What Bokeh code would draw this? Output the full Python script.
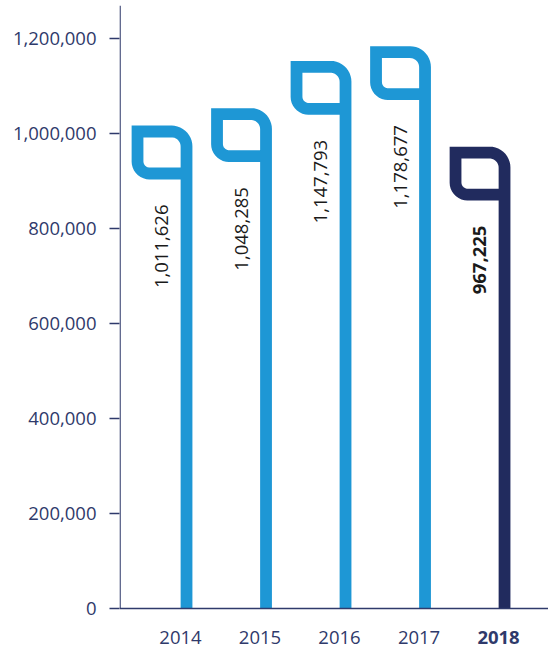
import numpy as np
from bokeh.plotting import figure
from bokeh.models import Range1d, FixedTicker, ColumnDataSource, NumeralTickFormatter, Span
from bokeh.core.properties import value
from bokeh.embed import file_html
from bokeh.resources import INLINE

# ---- data ----
years = ["2014", "2015", "2016", "2017", "2018"]
visitors = [1011626, 1048285, 1147793, 1178677, 967225]
value_labels = ["1,011,626", "1,048,285", "1,147,793", "1,178,677", "967,225"]
highlight = [False, False, False, False, True]
y_ticks = [0, 200000, 400000, 600000, 800000, 1000000, 1200000]

# ---- styling / layout ----
BLUE = "#1E97D5"
NAVY_BAR = "#212B5E"
AXIS_COL = "#2F3A6B"
FONT = "Open Sans"

W_PX, H_PX = 548, 653
LEFT, RIGHT, TOP, BOTTOM = 119, 0, 5, 0
ZERO_PX_FROM_BOTTOM = 45          # baseline sits 45 px above the canvas bottom
frame_w = W_PX - LEFT - RIGHT
frame_h = H_PX - TOP - BOTTOM
Y_MAX = 1269474
uy = Y_MAX / (frame_h - ZERO_PX_FROM_BOTTOM)   # data units per px (y)
Y_MIN = -ZERO_PX_FROM_BOTTOM * uy
X_START, X_END = -0.843, 4.553
ux = (X_END - X_START) / frame_w                # data units per px (x)

# hook geometry in pixels
HW, HH, R1, R2, DROP = 49.0, 42.0, 15.0, 12.0, 3.5
STROKE = 11.8


def hook_path(xc, v):
    """Polyline (data coords) for one bar: vertical stem + hook at the top."""
    pts = [(0.0, None), (0.0, R1)]
    for t in np.linspace(0, -np.pi / 2, 12)[1:]:
        pts.append((-R1 + R1 * np.cos(t), R1 + R1 * np.sin(t)))
    pts.append((-HW, 0.0))
    pts.append((-HW, HH - R2))
    for t in np.linspace(np.pi, np.pi / 2, 10)[1:]:
        pts.append((-HW + R2 + R2 * np.cos(t), HH - R2 + R2 * np.sin(t)))
    pts.append((0.0, HH))
    top = v - DROP * uy
    xs = [xc + dx * ux for dx, dy in pts]
    ys = [0.0 if dy is None else top - dy * uy for dx, dy in pts]
    return xs, ys


xs_all, ys_all, cols = [], [], []
for i, v in enumerate(visitors):
    xs, ys = hook_path(i, v)
    xs_all.append(xs)
    ys_all.append(ys)
    cols.append(NAVY_BAR if highlight[i] else BLUE)

p = figure(width=W_PX, height=H_PX, x_range=Range1d(X_START, X_END), y_range=Range1d(Y_MIN, Y_MAX),
           output_backend="svg", toolbar_location=None,
           min_border_left=LEFT, min_border_right=RIGHT, min_border_top=TOP, min_border_bottom=BOTTOM)
p.outline_line_color = None
p.xgrid.visible = False
p.ygrid.visible = False
p.xaxis.visible = False
p.background_fill_color = "white"
p.border_fill_color = "white"

p.multi_line(xs=xs_all, ys=ys_all, line_color=cols, line_width=STROKE,
             line_join="miter", line_cap="butt")

# baseline (x axis line) and left axis line limited to the value range
p.add_layout(Span(location=0, dimension="width", line_color=AXIS_COL, line_width=1.3))
p.segment(x0=[X_START + 0.6 * ux], y0=[0], x1=[X_START + 0.6 * ux], y1=[Y_MAX],
          line_color=AXIS_COL, line_width=1.3)

# value labels (rotated)
src = ColumnDataSource(dict(
    x=[i - 25 * ux for i in range(len(visitors))],
    y=[v - 76.5 * uy for v in visitors],
    text=value_labels,
    style=["bold" if h else "normal" for h in highlight],
))
p.text(x="x", y="y", text="text", source=src, angle=np.pi / 2, text_align="right",
       text_baseline="middle", text_font=value(FONT), text_font_size="18.5px",
       text_font_style="style", text_color="#1A1A1A")

# year labels
ysrc = ColumnDataSource(dict(
    x=[i - 6 * ux for i in range(len(years))],
    y=[-28.7 * uy] * len(years),
    text=years,
    style=["bold" if h else "normal" for h in highlight],
))
p.text(x="x", y="y", text="text", source=ysrc, text_align="center", text_baseline="middle",
       text_font=value(FONT), text_font_size="18.5px", text_font_style="style",
       text_color=AXIS_COL)

# y axis (ticks + labels only; line drawn above)
p.yaxis.ticker = FixedTicker(ticks=y_ticks)
p.yaxis.formatter = NumeralTickFormatter(format="0,0")
p.yaxis.major_tick_out = 10
p.yaxis.major_tick_in = 0
p.yaxis.minor_tick_line_color = None
p.yaxis.major_label_standoff = 13
p.yaxis.major_label_text_font = FONT
p.yaxis.major_label_text_font_size = "18.5px"
p.yaxis.major_label_text_color = AXIS_COL
p.yaxis.axis_line_color = None
p.yaxis.major_tick_line_color = AXIS_COL
p.yaxis.major_tick_line_width = 1.3

open("out.html", "w").write(file_html(p, INLINE))
